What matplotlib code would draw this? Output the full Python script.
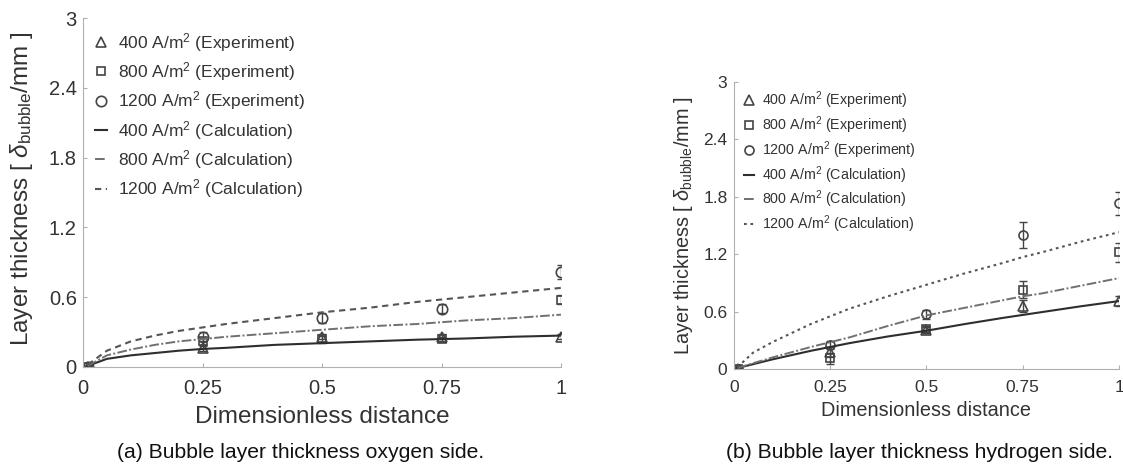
import matplotlib
matplotlib.use('Agg')
import matplotlib.pyplot as plt

plt.rcParams['font.family'] = ['Liberation Sans', 'DejaVu Sans']
plt.rcParams['mathtext.fontset'] = 'custom'
plt.rcParams['mathtext.rm'] = 'Liberation Sans'
plt.rcParams['mathtext.it'] = 'Liberation Sans:italic'

# experiment positions (dimensionless distance)
x_exp = [0.01, 0.25, 0.5, 0.75, 1.0]

# (a) oxygen side - experiments
a_exp_400 = [0.0, 0.16, 0.26, 0.26, 0.26]
a_exp_800 = [0.0, 0.22, 0.24, 0.24, 0.58]
a_exp_1200 = [0.0, 0.26, 0.42, 0.50, 0.82]
a_err_400 = [0.01, 0.02, 0.02, 0.02, 0.02]
a_err_800 = [0.01, 0.03, 0.03, 0.02, 0.04]
a_err_1200 = [0.01, 0.04, 0.04, 0.04, 0.06]

# (a) oxygen side - calculation
a_x_calc = [0.01, 0.05, 0.1, 0.15, 0.2, 0.25, 0.3, 0.4, 0.5, 0.6, 0.7, 0.8, 0.9, 1.0]
a_calc_400 = [0.01, 0.07, 0.10, 0.12, 0.14, 0.155, 0.165, 0.19, 0.205, 0.22, 0.235, 0.245, 0.26, 0.27]
a_calc_800 = [0.01, 0.10, 0.15, 0.19, 0.22, 0.24, 0.26, 0.29, 0.32, 0.35, 0.37, 0.40, 0.42, 0.45]
a_calc_1200 = [0.02, 0.14, 0.22, 0.27, 0.31, 0.34, 0.37, 0.42, 0.47, 0.51, 0.56, 0.60, 0.64, 0.68]

# (b) hydrogen side - experiments
b_exp_400 = [0.0, 0.18, 0.41, 0.66, 0.71]
b_exp_800 = [0.0, 0.11, 0.42, 0.83, 1.22]
b_exp_1200 = [0.0, 0.25, 0.57, 1.40, 1.73]
b_err_400 = [0.01, 0.05, 0.03, 0.06, 0.05]
b_err_800 = [0.01, 0.06, 0.03, 0.09, 0.10]
b_err_1200 = [0.01, 0.04, 0.05, 0.14, 0.12]

# (b) hydrogen side - calculation
b_x_calc = [0.01, 0.05, 0.1, 0.2, 0.25, 0.3, 0.4, 0.5, 0.6, 0.7, 0.75, 0.8, 0.9, 1.0]
b_calc_400 = [0.01, 0.05, 0.10, 0.19, 0.23, 0.27, 0.34, 0.40, 0.47, 0.535, 0.565, 0.595, 0.655, 0.71]
b_calc_800 = [0.01, 0.06, 0.12, 0.23, 0.28, 0.33, 0.45, 0.56, 0.64, 0.72, 0.76, 0.79, 0.87, 0.95]
b_calc_1200 = [0.02, 0.17, 0.28, 0.47, 0.55, 0.63, 0.76, 0.88, 1.00, 1.11, 1.17, 1.22, 1.33, 1.43]

x_ticks = [0, 0.25, 0.5, 0.75, 1]
x_ticklabels = ['0', '0.25', '0.5', '0.75', '1']
y_ticks = [0, 0.6, 1.2, 1.8, 2.4, 3]
y_ticklabels = ['0', '0.6', '1.2', '1.8', '2.4', '3']

labels = [r'400 A/m$^2$ (Experiment)', r'800 A/m$^2$ (Experiment)',
          r'1200 A/m$^2$ (Experiment)', r'400 A/m$^2$ (Calculation)',
          r'800 A/m$^2$ (Calculation)', r'1200 A/m$^2$ (Calculation)']

txt = '#333333'
mk = '#444444'
spine = '#b0b0b0'


def draw_panel(ax, x_calc, c400, c800, c1200, e400, e800, e1200,
               r400, r800, r1200, dash1200, ms, tick_fs, lab_fs, pad):
    h = []
    h += ax.plot(x_exp, e400, linestyle='none', marker='^', ms=ms, mfc='none', mec=mk, mew=1.2)
    h += ax.plot(x_exp, e800, linestyle='none', marker='s', ms=ms * 0.85, mfc='none', mec=mk, mew=1.2)
    h += ax.plot(x_exp, e1200, linestyle='none', marker='o', ms=ms, mfc='none', mec=mk, mew=1.2)
    for e, r in [(e400, r400), (e800, r800), (e1200, r1200)]:
        ax.errorbar(x_exp, e, yerr=r, fmt='none', ecolor=mk, elinewidth=1, capsize=3)
    h += ax.plot(x_calc, c400, color='#2e2e2e', lw=1.5)
    h += ax.plot(x_calc, c800, color='#707070', lw=1.4, linestyle=(0, (5, 1.2, 1, 1.2)))
    h += ax.plot(x_calc, c1200, color='#555555', lw=1.5, linestyle=dash1200)

    ax.set_xlim(0, 1)
    ax.set_ylim(0, 3)
    ax.set_xticks(x_ticks)
    ax.set_xticklabels(x_ticklabels)
    ax.set_yticks(y_ticks)
    ax.set_yticklabels(y_ticklabels)
    for s in ['top', 'right']:
        ax.spines[s].set_visible(False)
    for s in ['left', 'bottom']:
        ax.spines[s].set_color(spine)
    ax.tick_params(axis='both', direction='in', length=3, color=spine,
                   labelsize=tick_fs, labelcolor=txt)
    ax.tick_params(axis='x', pad=pad)
    ax.tick_params(axis='y', pad=4.5)
    ax.set_xlabel('Dimensionless distance', fontsize=lab_fs, color=txt, va='center')
    ax.set_ylabel(r'Layer thickness [ $\delta_{\mathrm{bubble}}$/mm ]',
                  fontsize=lab_fs, color=txt, va='center', ha='center')
    ax.patch.set_alpha(0)
    return h


fig = plt.figure(figsize=(11.23, 4.66), dpi=100)

axA = fig.add_axes([83 / 1123, 99 / 466, 478 / 1123, 349 / 466])
hA = draw_panel(axA, a_x_calc, a_calc_400, a_calc_800, a_calc_1200,
                a_exp_400, a_exp_800, a_exp_1200, a_err_400, a_err_800, a_err_1200,
                (0, (3, 2.2)), 7.5, 14.5, 17.5, 9)
axA.xaxis.set_label_coords(0.5, -0.143)
axA.yaxis.set_label_coords(-0.128, 0.51)
axA.legend(hA, labels, loc='upper left', bbox_to_anchor=(0.0, 0.998), frameon=False,
           fontsize=12.5, labelcolor=txt, handlelength=0.7, handletextpad=0.6,
           labelspacing=0.37, borderaxespad=0.3)

axB = fig.add_axes([733.7 / 1123, 97 / 466, 385.3 / 1123, 287 / 466])
hB = draw_panel(axB, b_x_calc, b_calc_400, b_calc_800, b_calc_1200,
                b_exp_400, b_exp_800, b_exp_1200, b_err_400, b_err_800, b_err_1200,
                (0, (1.3, 1.8)), 6.5, 12.5, 14.3, 8)
axB.xaxis.set_label_coords(0.5, -0.143)
axB.yaxis.set_label_coords(-0.131, 0.50)
axB.legend(hB, labels, loc='upper left', bbox_to_anchor=(0.0, 1.008), frameon=False,
           fontsize=10.3, labelcolor=txt, handlelength=0.7, handletextpad=0.6,
           labelspacing=0.22, borderaxespad=0.3)

fig.text(301 / 1123, (466 - 453) / 466, '(a) Bubble layer thickness oxygen side.',
         ha='center', va='center', fontsize=15.2, color='#111111')
fig.text(919 / 1123, (466 - 453) / 466, '(b) Bubble layer thickness hydrogen side.',
         ha='center', va='center', fontsize=15.2, color='#111111')

fig.savefig('out.png', dpi=100)
